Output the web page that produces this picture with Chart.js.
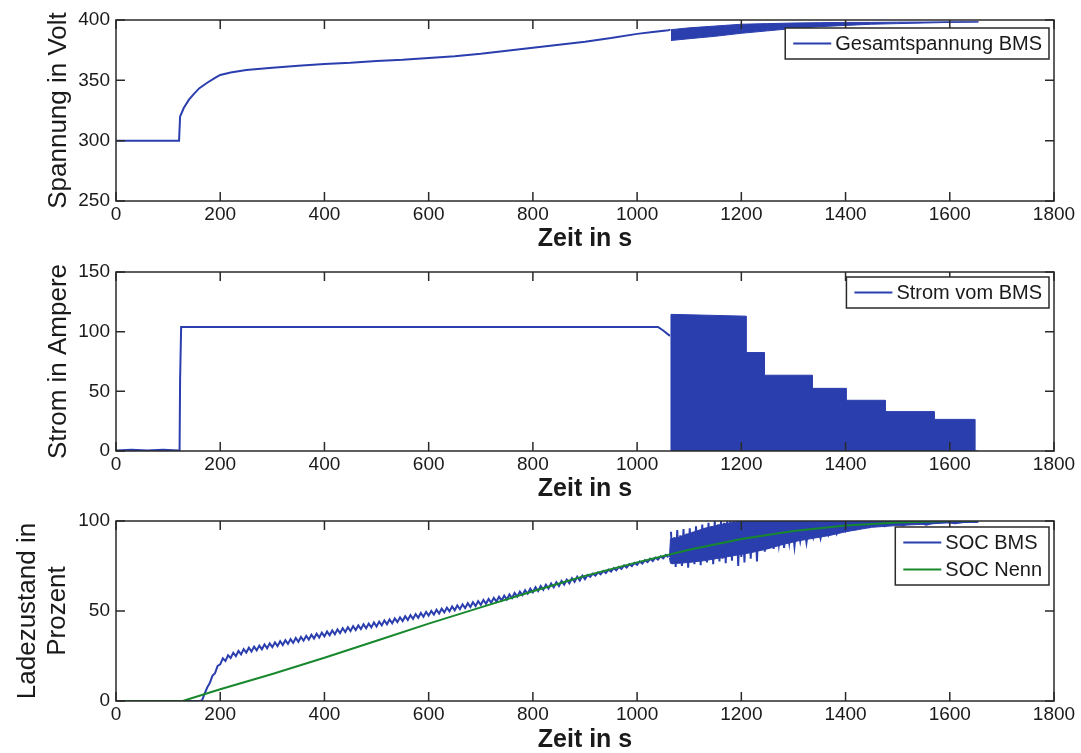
<!DOCTYPE html>
<html>
<head>
<meta charset="utf-8">
<title>BMS Ladeversuch</title>
<script src="https://cdn.jsdelivr.net/npm/chart.js@4.4.0/dist/chart.umd.min.js"></script>
<style>
  body { margin: 0; background: #fff; }
  canvas { position: absolute; left: 0; }
</style>
</head>
<body>
<canvas id="chartU" width="1081" height="252" style="top:0px"></canvas>
<canvas id="chartI" width="1081" height="250" style="top:252px"></canvas>
<canvas id="chartSoc" width="1081" height="251" style="top:502px"></canvas>
<script>
// x axis (Zeit in s)
const xTicks = [0, 200, 400, 600, 800, 1000, 1200, 1400, 1600, 1800];

// Gesamtspannung BMS
const voltTime  = [0, 120, 121, 123, 130, 140, 150, 160, 175, 190, 200, 220, 250, 300, 350, 400, 450, 500, 550, 600, 650, 700, 750, 800, 850, 900, 950, 1000, 1030, 1060, 1064];
const voltValue = [300, 300, 300, 320, 327, 334, 339, 343.5, 348, 352, 354.5, 356.5, 358.5, 360.5, 362, 363.5, 364.5, 366, 367, 368.5, 370, 372, 374.5, 377, 379.5, 382, 385, 388.5, 390, 391.5, 392];
// oscillating part after 1065 s (upper / lower edge of the band)
const voltBandTime = [1065, 1100, 1150, 1200, 1250, 1300, 1350, 1400, 1450, 1500, 1550, 1600, 1655];
const voltBandTop  = [392, 393.5, 395, 396.5, 397, 397.5, 397.8, 398, 398, 398.2, 398.3, 398.5, 398.5];
const voltBandLow  = [383, 384.5, 386.5, 389, 391, 393, 394.5, 395.5, 396.5, 397, 397.5, 398, 398.3];

// Strom vom BMS
const currTime  = [0, 30, 60, 90, 120, 122, 123, 125, 300, 600, 900, 1040, 1050, 1063];
const currValue = [0.5, 1, 0.5, 1, 0.5, 0.5, 60, 104, 104, 104, 104, 104, 101, 96.5];
// pulsed charging, drawn as filled block down to 0
const currBlockTime  = [1065, 1065, 1209, 1209, 1244, 1244, 1336, 1336, 1401, 1401, 1476, 1476, 1570, 1570, 1648, 1648, 1655];
const currBlockValue = [0, 114.5, 113, 82.5, 82.5, 63.5, 63.5, 52.5, 52.5, 42.5, 42.5, 33, 33, 26.5, 26.5, 0, 0];

const socTime = [0, 160, 165, 170, 175, 180, 185, 190, 195,
  200, 205, 210, 215, 220, 225, 230, 235, 240, 245, 250, 255, 260, 265, 270, 275, 280, 285, 290, 295,
  300, 305, 310, 315, 320, 325, 330, 335, 340, 345, 350, 355, 360, 365, 370, 375, 380, 385, 390, 395,
  400, 405, 410, 415, 420, 425, 430, 435, 440, 445, 450, 455, 460, 465, 470, 475, 480, 485, 490, 495,
  500, 505, 510, 515, 520, 525, 530, 535, 540, 545, 550, 555, 560, 565, 570, 575, 580, 585, 590, 595,
  600, 605, 610, 615, 620, 625, 630, 635, 640, 645, 650, 655, 660, 665, 670, 675, 680, 685, 690, 695,
  700, 705, 710, 715, 720, 725, 730, 735, 740, 745, 750, 755, 760, 765, 770, 775, 780, 785, 790, 795,
  800, 805, 810, 815, 820, 825, 830, 835, 840, 845, 850, 855, 860, 865, 870, 875, 880, 885, 890, 895,
  900, 905, 910, 915, 920, 925, 930, 935, 940, 945, 950, 955, 960, 965, 970, 975, 980, 985, 990, 995,
  1000, 1005, 1010, 1015, 1020, 1025, 1030, 1035, 1040, 1045, 1050, 1055, 1060];
const socBms = [0, 0, 0.3, 4, 7.5, 10, 14, 15.5, 19.5,
  20.4, 23.7, 22.2, 25.4, 23.9, 26.8, 24.9, 27.8, 25.9, 28.8, 26.9, 29.6, 27.5, 30.2, 28.1, 30.8, 28.7, 31.4, 29.3, 32,
  29.9, 32.6, 30.5, 33.2, 31.1, 33.8, 31.7, 34.4, 32.3, 35, 32.9, 35.6, 33.5, 36.2, 34.1, 36.8, 34.7, 37.4, 35.3, 38,
  35.9, 38.6, 36.5, 39.2, 37.1, 39.8, 37.7, 40.4, 38.3, 41, 38.9, 41.6, 39.4, 42, 39.9, 42.6, 40.4, 43, 40.9, 43.6,
  41.4, 44.1, 42, 44.7, 42.6, 45.3, 43.2, 45.9, 43.8, 46.5, 44.4, 47.1, 45, 47.7, 45.6, 48.3, 46.2, 48.9, 46.8, 49.5,
  47.4, 50.1, 48, 50.7, 48.6, 51.3, 49.2, 51.9, 49.8, 52.5, 50.4, 53.1, 51, 53.7, 51.6, 54.3, 52.2, 54.9, 52.8, 55.5,
  53.4, 56.1, 54, 56.7, 54.6, 57.3, 55.2, 57.9, 55.8, 58.5, 56.4, 59.2, 57.2, 60, 58, 60.8, 58.8, 61.6, 59.6, 62.4,
  60.4, 63.2, 61.1, 63.9, 61.8, 64.6, 62.5, 65.3, 63.2, 66, 63.9, 66.7, 64.7, 67.4, 65.4, 68.2, 66.2, 69, 66.9, 69.7,
  67.7, 70, 68.9, 70.7, 69.6, 71.5, 70.4, 72.3, 71.1, 73, 71.9, 73.8, 72.6, 74.5, 73.4, 75.3, 74.1, 76, 74.9, 76.7,
  75.6, 77.5, 76.3, 78.2, 77.1, 79, 77.8, 79.7, 78.6, 80.4, 79.3, 81.1, 79.9];
// noisy part after 1062 s: band edges plus single spikes
const socBandTime = [1062, 1064, 1080, 1100, 1130, 1160, 1190, 1220, 1250, 1280, 1310, 1340, 1370, 1400, 1450, 1500, 1550, 1600, 1655];
const socBandTop  = [80, 90, 91, 93, 96, 98, 99.5, 100, 100, 100, 100, 100, 100, 100, 100, 100, 100, 100, 100];
const socBandLow  = [79.5, 76.5, 76.5, 77, 78, 79.5, 81, 82.5, 84.5, 87, 89, 90.5, 92, 94, 96.5, 97.5, 98.2, 99, 99.3];
const socSpikeTime = [1065, 1068, 1071, 1074, 1077, 1080, 1083, 1086, 1089, 1092, 1095, 1098, 1101, 1104, 1107, 1110, 1113, 1116, 1119, 1122,
  1125, 1128, 1131, 1134, 1137, 1140, 1143, 1146, 1149, 1152, 1155, 1158, 1161, 1164, 1167, 1170, 1173, 1176, 1179, 1182,
  1185, 1188, 1191, 1194, 1197, 1200, 1203, 1206, 1209, 1212, 1215, 1218, 1221, 1224, 1227, 1230, 1233, 1237, 1241, 1245,
  1249, 1253, 1257, 1262, 1267, 1272, 1277, 1282, 1287, 1292, 1297, 1302, 1307, 1313, 1319, 1325, 1331, 1338, 1345, 1352,
  1359, 1367, 1375, 1383, 1391, 1400, 1410, 1420, 1432, 1445, 1460, 1475, 1490, 1510, 1530, 1555, 1580, 1610, 1640, 1652];
const socSpikeValue = [94, 76, 91, 74.5, 95, 77, 92, 75, 95.5, 77.5, 93, 74, 96, 78, 94, 76, 97, 79, 95, 75.5,
  98, 78.5, 96, 77, 99, 80, 97, 76, 100, 80.5, 98, 77.5, 100, 79, 99, 76.5, 100, 81, 100, 78,
  100, 82, 100, 75, 100, 80, 100, 77, 100, 83, 100, 79, 100, 84, 100, 77.5, 100, 85, 100, 83,
  100, 86, 100, 84.5, 100, 87, 100, 85, 100, 88, 100, 86, 100, 89, 100, 88, 100, 91, 100, 90.5,
  100, 92.5, 100, 93, 100, 94.5, 100, 95.5, 100, 96.5, 100, 97, 100, 97.5, 100, 98, 100, 98.8, 100, 99.5];

// SOC Nenn
const nennTime  = [0, 128, 200, 300, 400, 500, 600, 700, 800, 900, 1000, 1100, 1200, 1300, 1400, 1500, 1600, 1650];
const nennValue = [0, 0, 6.5, 15, 24, 33.5, 43, 52, 61, 69.5, 77, 84, 90, 94.5, 97.5, 99.2, 100, 100];

const blue = '#2b3eae';
const green = '#17882c';
const ink = '#1a1a1a';
const family = "'Liberation Sans', Arial, sans-serif";

function pts(xs, ys) {
  return xs.map((x, i) => ({ x: x, y: ys[i] }));
}

// box around the plot with inward ticks (matlab style)
const frameTicks = {
  id: 'frameTicks',
  afterDraw(chart) {
    const ctx = chart.ctx, a = chart.chartArea;
    const xs = chart.scales.x, ys = chart.scales.y;
    ctx.save();
    ctx.strokeStyle = '#2a2a2a';
    ctx.lineWidth = 1.5;
    ctx.beginPath();
    xs.ticks.forEach(t => {
      const px = xs.getPixelForValue(t.value);
      ctx.moveTo(px, a.bottom); ctx.lineTo(px, a.bottom - 9);
      ctx.moveTo(px, a.top); ctx.lineTo(px, a.top + 9);
    });
    ys.ticks.forEach(t => {
      const py = ys.getPixelForValue(t.value);
      ctx.moveTo(a.left, py); ctx.lineTo(a.left + 9, py);
      ctx.moveTo(a.right, py); ctx.lineTo(a.right - 9, py);
    });
    ctx.stroke();
    ctx.strokeRect(a.left, a.top, a.right - a.left, a.bottom - a.top);
    ctx.restore();
  }
};

// legend in a framed white box, top right inside the plot
const boxLegend = {
  id: 'boxLegend',
  afterDraw(chart, args, opts) {
    const ctx = chart.ctx, a = chart.chartArea;
    ctx.save();
    ctx.font = '20px ' + family;
    const textW = Math.max(...opts.items.map(it => ctx.measureText(it.label).width));
    const rowH = 27;
    const w = 8 + 38 + 4 + textW + 7;
    const h = opts.items.length * rowH + 4;
    const left = a.right - 5 - w, top = a.top + opts.offset;
    ctx.fillStyle = '#fff';
    ctx.fillRect(left, top, w, h);
    ctx.strokeStyle = '#2a2a2a';
    ctx.lineWidth = 1.5;
    ctx.strokeRect(left, top, w, h);
    opts.items.forEach((it, i) => {
      const cy = top + 2 + rowH * (i + 0.5);
      ctx.strokeStyle = it.color;
      ctx.lineWidth = 2;
      ctx.beginPath();
      ctx.moveTo(left + 8, cy);
      ctx.lineTo(left + 46, cy);
      ctx.stroke();
      ctx.fillStyle = ink;
      ctx.textBaseline = 'middle';
      ctx.textAlign = 'left';
      ctx.fillText(it.label, left + 50, cy + 1);
    });
    ctx.restore();
  }
};

function makeChart(id, datasets, yMin, yMax, yTitle, yTitlePad, padTop, plotH, legendItems, legendOffset) {
  const canvas = document.getElementById(id);
  const xAxisH = canvas.height - padTop - plotH;
  return new Chart(canvas, {
    type: 'line',
    data: { datasets: datasets },
    options: {
      responsive: false,
      animation: false,
      layout: { padding: { top: padTop, right: 27, left: 0, bottom: 0 } },
      elements: { point: { radius: 0 }, line: { tension: 0, borderWidth: 2 } },
      plugins: {
        legend: { display: false },
        tooltip: { enabled: false },
        boxLegend: { items: legendItems, offset: legendOffset }
      },
      scales: {
        x: {
          type: 'linear', min: 0, max: 1800,
          afterBuildTicks: s => { s.ticks = xTicks.map(v => ({ value: v })); },
          grid: { display: false, drawTicks: false },
          border: { display: false },
          ticks: { font: { size: 19, family: family }, color: ink, padding: 2, maxRotation: 0, autoSkip: false,
                   callback: v => String(v) },
          title: { display: true, text: 'Zeit in s', color: ink, padding: { top: 0, bottom: 0 },
                   font: { size: 25, weight: 'bold', family: family, lineHeight: 1 } },
          afterFit: s => { s.height = xAxisH; }
        },
        y: {
          type: 'linear', min: yMin, max: yMax,
          grid: { display: false, drawTicks: false },
          border: { display: false },
          ticks: { stepSize: 50, font: { size: 19, family: family }, color: ink, padding: 6,
                   callback: v => String(v) },
          title: { display: true, text: yTitle, color: ink, padding: { top: yTitlePad, bottom: 0 },
                   font: { size: 26, family: family, lineHeight: 1.15 } },
          afterFit: s => { s.width = 116; }
        }
      }
    },
    plugins: [frameTicks, boxLegend]
  });
}

makeChart('chartU', [
  { data: pts(voltTime, voltValue), borderColor: blue },
  { data: pts(voltBandTime, voltBandLow), borderColor: blue, borderWidth: 1 },
  { data: pts(voltBandTime, voltBandTop), borderColor: blue, borderWidth: 1, fill: '-1', backgroundColor: blue }
], 250, 400, 'Spannung in Volt', 44, 20, 181, [{ label: 'Gesamtspannung BMS', color: blue }], 8);

makeChart('chartI', [
  { data: pts(currTime, currValue), borderColor: blue },
  { data: pts(currBlockTime, currBlockValue), borderColor: blue, borderWidth: 1, fill: 'origin', backgroundColor: blue }
], 0, 150, 'Strom in Ampere', 44, 20, 179, [{ label: 'Strom vom BMS', color: blue }], 5);

makeChart('chartSoc', [
  { data: pts(nennTime, nennValue), borderColor: green, order: 0 },
  { data: pts(socTime, socBms), borderColor: blue, order: 1 },
  { data: pts(socSpikeTime, socSpikeValue), borderColor: blue, borderWidth: 2, order: 1 },
  { data: pts(socBandTime, socBandLow), borderColor: blue, borderWidth: 1, order: 2 },
  { data: pts(socBandTime, socBandTop), borderColor: blue, borderWidth: 1, fill: '-1', backgroundColor: blue, order: 2 }
], 0, 100, ['Ladezustand in', 'Prozent'], 13, 19, 180, [{ label: 'SOC BMS', color: blue }, { label: 'SOC Nenn', color: green }], 6);
</script>
</body>
</html>
